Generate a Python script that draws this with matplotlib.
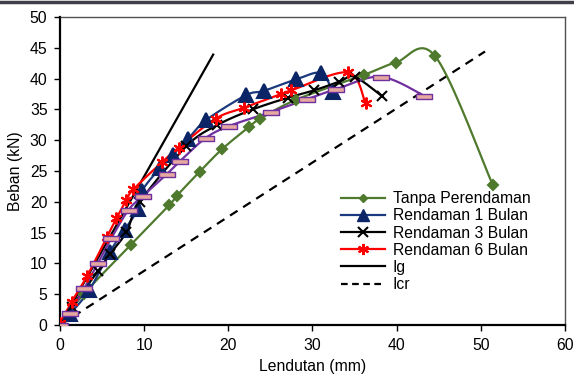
import matplotlib
matplotlib.use("Agg")
import matplotlib.pyplot as plt
import numpy as np
from matplotlib.path import Path
from matplotlib.lines import Line2D

plt.rcParams['font.family'] = ['Liberation Sans', 'DejaVu Sans']

# data: lendutan (mm) vs beban (kN)
x_tanpa = [0, 2.8, 8.4, 13.0, 13.9, 16.6, 19.3, 22.5, 23.8, 28.1, 36.1, 39.9, 44.6, 51.4]
y_tanpa = [0, 5.0, 13.0, 19.5, 21.0, 24.9, 28.6, 32.2, 33.5, 36.6, 40.6, 42.6, 43.6, 22.8]

x_1bln = [0, 1.2, 3.5, 5.9, 7.7, 9.3, 9.7, 11.9, 13.4, 15.2, 17.4, 22.1, 24.2, 28.1, 31.0, 32.4]
y_1bln = [0, 1.8, 5.7, 11.8, 15.5, 18.9, 21.7, 25.5, 27.6, 30.2, 33.3, 37.3, 38.0, 39.9, 40.9, 37.9]

x_3bln = [0, 1.4, 4.5, 6.0, 7.9, 9.5, 15.0, 18.6, 22.9, 27.1, 30.2, 33.2, 35.0, 38.3]
y_3bln = [0, 3.0, 8.7, 11.6, 15.1, 20.0, 29.0, 32.4, 35.0, 36.9, 38.1, 39.5, 40.3, 37.1]

x_6bln = [0, 1.4, 3.2, 5.6, 6.7, 7.9, 8.7, 12.1, 14.1, 18.5, 21.9, 26.3, 27.5, 34.2, 36.3]
y_6bln = [0.3, 3.8, 7.9, 14.3, 17.3, 20.3, 22.0, 26.4, 28.8, 33.5, 35.3, 37.5, 38.1, 41.0, 36.0]

x_ungu = [0, 1.15, 2.9, 4.5, 6.1, 8.15, 9.85, 12.7, 14.3, 17.3, 20.1, 25.1, 29.3, 32.85, 38.1, 43.3]
y_ungu = [0, 1.95, 6.0, 10.0, 14.1, 18.7, 20.95, 24.5, 26.65, 30.35, 32.3, 34.6, 36.65, 38.3, 40.3, 37.2]

x_ig = [0, 18.2]
y_ig = [0, 43.9]
x_icr = [0, 50.5]
y_icr = [0, 44.4]


def smooth(xs, ys, n=20):
    # bezier smoothing like excel "smoothed line"
    p = np.column_stack([xs, ys]).astype(float)
    out = [p[0]]
    for i in range(len(p) - 1):
        p0 = p[i - 1] if i > 0 else p[i]
        p1, p2 = p[i], p[i + 1]
        p3 = p[i + 2] if i + 2 < len(p) else p[i + 1]
        c1 = p1 + (p2 - p0) / 6
        c2 = p2 - (p3 - p1) / 6
        t = np.linspace(0, 1, n)[1:, None]
        seg = (1 - t) ** 3 * p1 + 3 * (1 - t) ** 2 * t * c1 + 3 * (1 - t) * t ** 2 * c2 + t ** 3 * p2
        out.extend(seg)
    out = np.array(out)
    return out[:, 0], out[:, 1]


bar = Path([(-1, -0.3), (1, -0.3), (1, 0.3), (-1, 0.3), (-1, -0.3)],
           [Path.MOVETO, Path.LINETO, Path.LINETO, Path.LINETO, Path.CLOSEPOLY])

fig = plt.figure(figsize=(5.74, 3.78), dpi=100)
ax = fig.add_axes([0.1045, 0.1402, 0.8798, 0.8148])

series = [
    (x_tanpa, y_tanpa, "#4F7A2E", "D", 5, "#4F7A2E", "Tanpa Perendaman"),
    (x_1bln, y_1bln, "#1B3A7E", "^", 9.5, "#0B2566", "Rendaman 1 Bulan"),
    (x_3bln, y_3bln, "#000000", "x", 7.5, "#000000", "Rendaman 3 Bulan"),
    (x_6bln, y_6bln, "#FF0000", (6, 2, 0), 8.5, "#FF0000", "Rendaman 6 Bulan"),
]
for xs, ys, lc, mk, ms, mc, lab in series:
    sx, sy = smooth(xs, ys)
    ax.plot(sx, sy, color=lc, lw=1.6, zorder=3)
    ax.plot(xs, ys, ls="none", marker=mk, ms=ms, color=mc, mec=mc, mew=1.5, zorder=4)

sx, sy = smooth(x_ungu, y_ungu)
ax.plot(sx, sy, color="#7030A0", lw=1.6, zorder=3)
ax.plot(x_ungu, y_ungu, ls="none", marker=bar, ms=12, mfc="#E6A9A0", mec="#7030A0", mew=1, zorder=5)

ax.plot(x_ig, y_ig, color="black", lw=1.6, zorder=2)
ax.plot(x_icr, y_icr, color="black", lw=1.6, ls=(0, (4, 3)), zorder=2)

handles = [
    Line2D([], [], color="#4F7A2E", lw=1.6, marker="D", ms=4),
    Line2D([], [], color="#1B3A7E", lw=1.6, marker="^", ms=9, mfc="#0B2566", mec="#0B2566"),
    Line2D([], [], color="black", lw=1.6, marker="x", ms=7, mew=1.5),
    Line2D([], [], color="#FF0000", lw=1.6, marker=(6, 2, 0), ms=8, mew=1.5),
    Line2D([], [], color="black", lw=1.6),
    Line2D([], [], color="black", lw=1.6, ls=(0, (3, 2))),
]
labels = ["Tanpa Perendaman", "Rendaman 1 Bulan", "Rendaman 3 Bulan", "Rendaman 6 Bulan", "Ig", "Icr"]
ax.legend(handles, labels, loc="upper left", bbox_to_anchor=(0.541, 0.46), frameon=False,
          fontsize=11.3, handlelength=2.8, handletextpad=0.5, labelspacing=0.14, borderpad=0)

ax.set_xlim(0, 60)
ax.set_ylim(0, 50)
ax.set_xticks(np.arange(0, 61, 10))
ax.set_yticks(np.arange(0, 51, 5))
ax.tick_params(direction="out", length=4, width=1, labelsize=11.3, colors="black", pad=5)
ax.set_xlabel("Lendutan (mm)", fontsize=11.3, labelpad=5)
ax.set_ylabel("Beban (kN)", fontsize=11.3, labelpad=5)
for s in ["left", "bottom"]:
    ax.spines[s].set_linewidth(1.6)
    ax.spines[s].set_color("black")
for s in ["top", "right"]:
    ax.spines[s].set_linewidth(1)
    ax.spines[s].set_color("#505050")
for sp in ax.spines.values():
    sp.set_zorder(1)

# dark band along the top edge
fig.add_artist(Line2D([0, 1], [1 - 1.5 / 378, 1 - 1.5 / 378], color="#3F3F4A", lw=2.5,
                      transform=fig.transFigure))

fig.savefig("out.png", dpi=100)
